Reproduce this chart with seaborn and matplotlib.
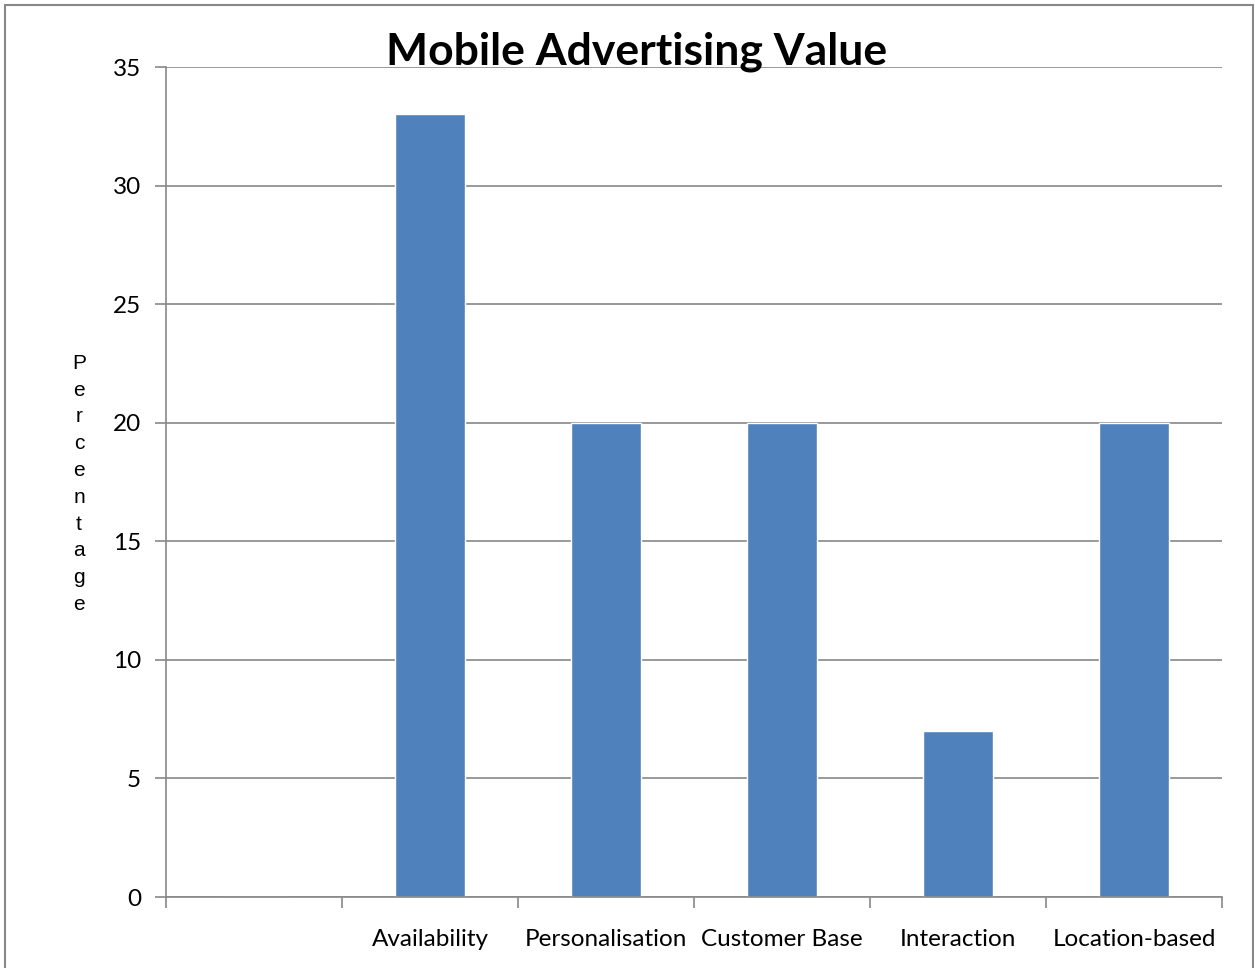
import matplotlib
matplotlib.use("Agg")
import matplotlib.pyplot as plt
import seaborn as sns
import pandas as pd
from matplotlib.patches import Rectangle

categories = ["", "Availability", "Personalisation", "Customer Base", "Interaction", "Location-based"]
values = [0, 33, 20, 20, 7, 20]
y_ticks = [0, 5, 10, 15, 20, 25, 30, 35]

sns.set_theme(style="white")
plt.rcParams["font.family"] = ["Lato", "DejaVu Sans"]
plt.rcParams["text.color"] = "black"
plt.rcParams["xtick.color"] = "black"
plt.rcParams["ytick.color"] = "black"

df = pd.DataFrame({"category": categories, "value": values})

fig = plt.figure(figsize=(12.55, 9.68), dpi=100)
ax = fig.add_axes([166 / 1255, 1 - 897 / 968, (1222 - 166) / 1255, (897 - 67) / 968])

grid_col = "#888888"
ax.set_axisbelow(True)
ax.yaxis.grid(True, color=grid_col, linewidth=1.2)
sns.barplot(data=df, x="category", y="value", color="#4F81BD", saturation=1,
            width=0.4, ax=ax, order=categories)

ax.set_ylim(0, 35)
ax.set_yticks(y_ticks)
ax.set_yticklabels([str(t) for t in y_ticks], fontsize=17.5)
ax.set_xlim(-0.5, len(categories) - 0.5)

# category boundary ticks, labels centred between them
ax.set_xticks([i - 0.5 for i in range(len(categories) + 1)])
ax.set_xticklabels([])
ax.set_xticks(range(len(categories)), minor=True)
ax.set_xticklabels(categories, minor=True, fontsize=17.5)
ax.tick_params(axis="x", which="major", direction="out", length=8, width=1.2, color=grid_col, bottom=True)
ax.tick_params(axis="x", which="minor", length=0, pad=23)
ax.tick_params(axis="y", direction="out", length=8, width=1.2, color=grid_col, left=True, pad=10)

for s in ["top", "right"]:
    ax.spines[s].set_visible(False)
for s in ["left", "bottom"]:
    ax.spines[s].set_color(grid_col)
    ax.spines[s].set_linewidth(1.2)

ax.set_xlabel("")
ax.set_ylabel("")

fig.text(79 / 1255, 1 - 484 / 968, "\n".join("Percentage"), ha="center", va="center",
         fontsize=15, family=["Liberation Sans", "DejaVu Sans"], linespacing=1.52)

fig.text(637 / 1255, 1 - 64 / 968, "Mobile Advertising Value", ha="center", va="baseline",
         fontsize=32, fontweight="bold")

# outer chart border
fig.patches.append(Rectangle((5 / 1255, -0.05), (1253 - 5) / 1255, 1.05 - 5 / 968,
                             transform=fig.transFigure, fill=False,
                             edgecolor="#888888", linewidth=1.5, zorder=0))

fig.savefig("out.png", dpi=100, facecolor="white")
